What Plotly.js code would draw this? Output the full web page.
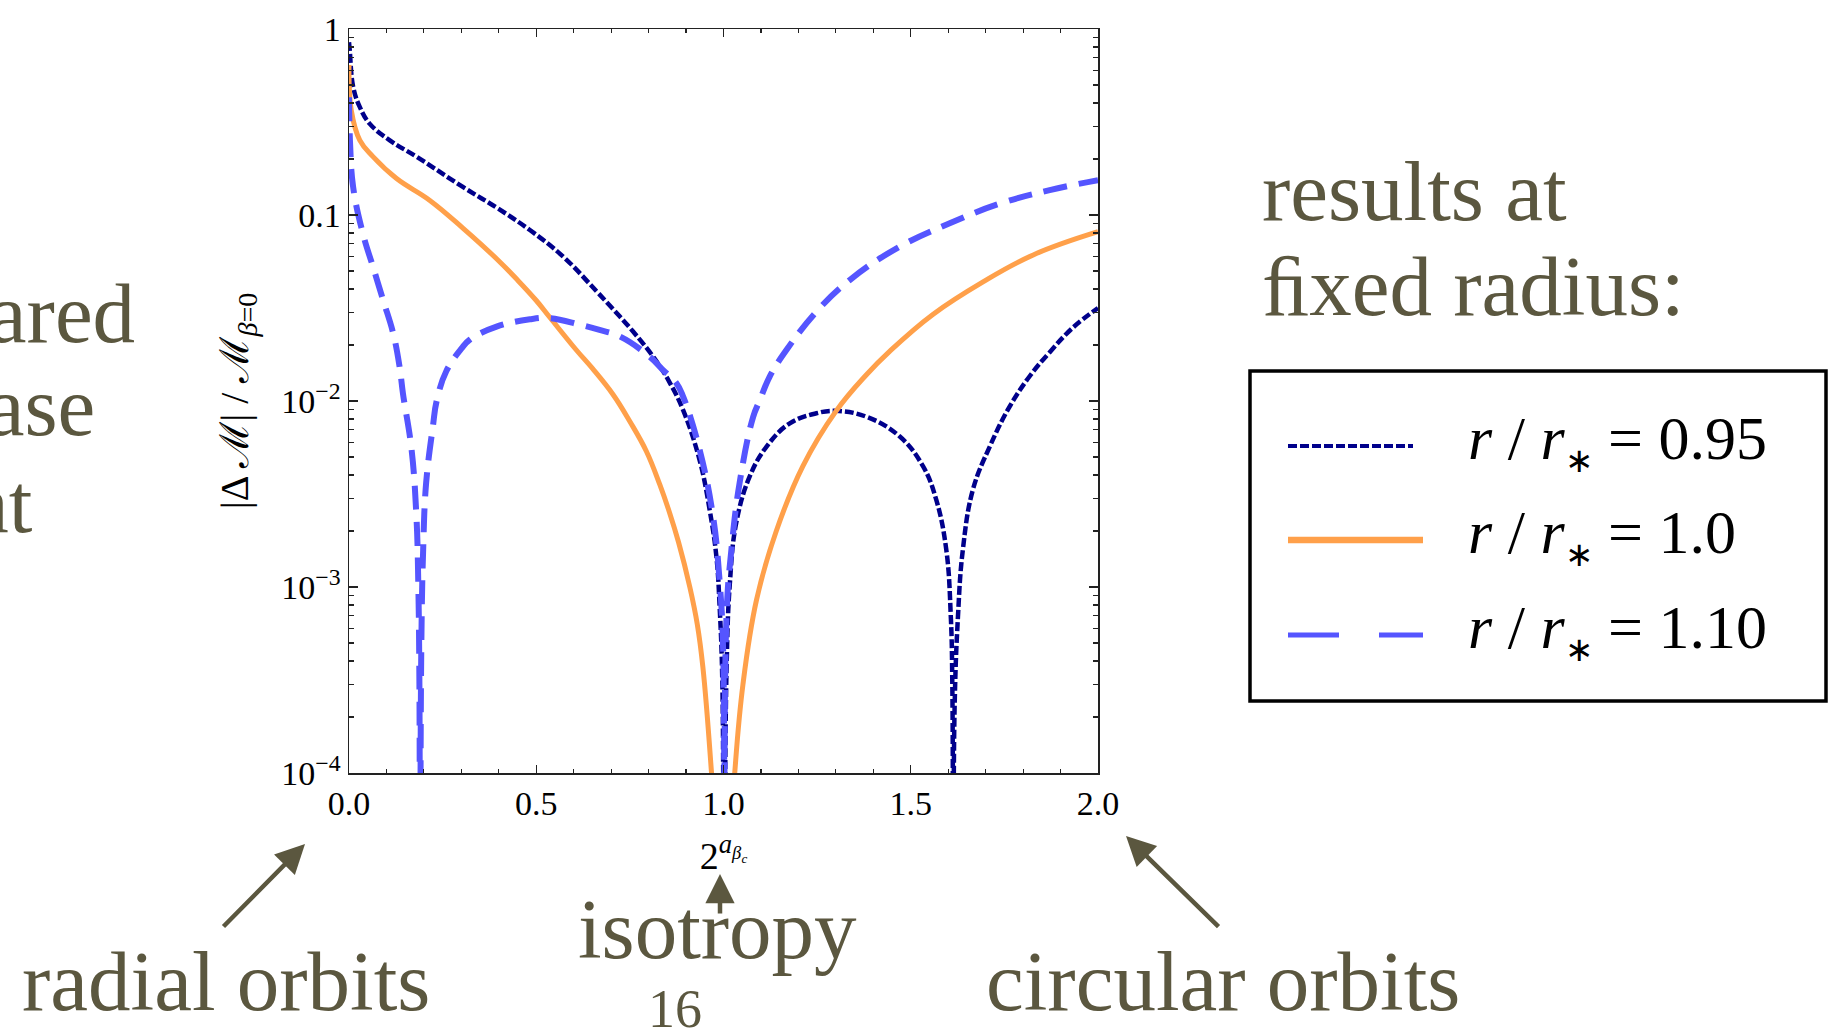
<!DOCTYPE html>
<html>
<head>
<meta charset="utf-8">
<script src="https://cdn.plot.ly/plotly-3.0.1.min.js"></script>
<style>
  html, body { margin: 0; padding: 0; background: #ffffff; }
  #chart { width: 1831px; height: 1031px; }
</style>
</head>
<body>
<div id="chart"></div>
<script>
// ---------------- data ----------------
// r / r* = 0.95  (navy, dotted)
const x095 = [0, 0.002, 0.011, 0.029, 0.055, 0.109, 0.18, 0.304, 0.394, 0.483, 0.572, 0.661, 0.70, 0.758, 0.815,
  0.856, 0.892, 0.936, 0.963, 0.981, 0.99, 0.997, 1.001, 1.008, 1.017, 1.034, 1.07, 1.115, 1.177, 1.248, 1.30,
  1.381, 1.47, 1.533, 1.568, 1.595, 1.607, 1.611, 1.6135, 1.617, 1.626, 1.639, 1.666, 1.711, 1.764, 1.82, 1.87,
  1.933, 2.0];
const y095 = [0.85, 0.77, 0.49, 0.38, 0.31, 0.252, 0.206, 0.1415, 0.1096, 0.083, 0.0597, 0.0389, 0.0320, 0.0237, 0.0170,
  0.0126, 0.00895, 0.00483, 0.0026, 0.00146, 0.00076, 0.0003, 0.00001, 0.00035, 0.00105, 0.00221, 0.00393, 0.00569, 0.00759, 0.00859, 0.00885,
  0.00824, 0.00646, 0.00445, 0.00295, 0.00158, 0.00069, 0.0003, 0.00001, 0.00022, 0.00069, 0.00158, 0.00334, 0.00569, 0.00933, 0.0138, 0.0182,
  0.0248, 0.0316];

// r / r* = 1.0  (orange, solid)
const x100 = [0, 0.006, 0.029, 0.064, 0.127, 0.215, 0.304, 0.394, 0.45, 0.50, 0.536, 0.607, 0.65, 0.705, 0.75,
  0.794, 0.83, 0.856, 0.88, 0.91, 0.93, 0.945, 0.968, 1.0, 1.03, 1.052, 1.088, 1.141, 1.212, 1.30,
  1.381, 1.445, 1.559, 1.693, 1.827, 2.0];
const y100 = [0.64, 0.366, 0.252, 0.206, 0.157, 0.1202, 0.0851, 0.0582, 0.0447, 0.0347, 0.0282, 0.0188, 0.01496, 0.01084, 0.00776,
  0.00537, 0.00355, 0.00251, 0.00174, 0.001, 0.00063, 0.00037, 0.0001, 0.00001, 0.0001, 0.0003, 0.00085, 0.0020, 0.00447, 0.0088,
  0.0138, 0.0186, 0.0292, 0.0437, 0.0610, 0.0813];

// r / r* = 1.10  (blue, dashed)
const x110 = [0, 0.003, 0.011, 0.037, 0.064, 0.091, 0.118, 0.135, 0.144, 0.167, 0.18, 0.185, 0.188, 0.1895, 0.193,
  0.198, 0.206, 0.224, 0.234, 0.26, 0.30, 0.323, 0.394, 0.483, 0.536, 0.617, 0.669, 0.724, 0.803, 0.838, 0.874,
  0.892, 0.936, 0.972, 0.99, 0.999, 1.002, 1.008, 1.021, 1.043, 1.079, 1.097, 1.123, 1.168, 1.248, 1.337, 1.47,
  1.604, 1.737, 1.871, 2.0];
const y110 = [0.43, 0.24, 0.1415, 0.0796, 0.0527, 0.0349, 0.0231, 0.0153, 0.011, 0.0055, 0.0024, 0.00105, 0.0003, 0.00001, 0.00046,
  0.00158, 0.00363, 0.0073, 0.0100, 0.0145, 0.0191, 0.0214, 0.0251, 0.0275, 0.0279, 0.0257, 0.0241, 0.0222, 0.0173, 0.0147, 0.0125,
  0.0106, 0.0055, 0.0024, 0.00105, 0.00046, 0.00001, 0.0007, 0.00158, 0.00363, 0.0082, 0.0101, 0.0135, 0.0188, 0.0302, 0.0447, 0.0675,
  0.0902, 0.115, 0.136, 0.154];

const starSub = '<sub><span style="font-size:34px">∗</span></sub>';
const seriesNames = [
  '<i>r</i> / <i>r</i>' + starSub + ' = 0.95',
  '<i>r</i> / <i>r</i>' + starSub + ' = 1.0',
  '<i>r</i> / <i>r</i>' + starSub + ' = 1.10'
];
const seriesColors = ['#00008b', '#ffa04a', '#5555ff'];

// axis ticks
const xTickVals = [0, 0.5, 1.0, 1.5, 2.0];
const xTickText = ['0.0', '0.5', '1.0', '1.5', '2.0'];
const xMinorVals = [0.1, 0.2, 0.3, 0.4, 0.6, 0.7, 0.8, 0.9, 1.1, 1.2, 1.3, 1.4, 1.6, 1.7, 1.8, 1.9];
const yTickVals = [1e-4, 1e-3, 1e-2, 0.1, 1];
const yTickText = ['10<sup>−4</sup>', '10<sup>−3</sup>', '10<sup>−2</sup>', '0.1', '1'];
const yMinorVals = [];
[1e-4, 1e-3, 1e-2, 0.1].forEach(function (d) {
  [2, 3, 4, 5, 6, 7, 8, 9].forEach(function (m) { yMinorVals.push(+(d * m).toPrecision(3)); });
});

// slide text
const sideTextRight = ['results at', 'ﬁxed radius:'];
const sideTextLeft = ['compared', 'case', 'at'];
const bottomLabels = ['radial orbits', 'isotropy', 'circular orbits'];
const pageNumber = '16';

// ---------------- layout helpers (pixel -> paper) ----------------
const W = 1831, H = 1031;
const PL = 349, PR = 1098, PT = 29, PB = 773;
function px(xp) { return (xp - PL) / (PR - PL); }
function py(yp) { return (PB - yp) / (PB - PT); }

const OLIVE = '#5b573f';
const SERIF = 'Liberation Serif, Times New Roman, serif';
const BIG = 85;

function olive(text, xp, baseline, anchor, size) {
  size = size || BIG;
  return {
    text: text, xref: 'paper', yref: 'paper',
    x: px(xp), y: py(baseline - 0.34 * size),
    xanchor: anchor, yanchor: 'middle', showarrow: false,
    font: { family: SERIF, size: size, color: OLIVE }
  };
}
function arrow(hx, hy, tx, ty) {
  return {
    text: '', xref: 'paper', yref: 'paper', x: px(hx), y: py(hy),
    ax: tx - hx, ay: ty - hy, showarrow: true,
    arrowhead: 2, arrowsize: 1.3, arrowwidth: 4.5, arrowcolor: OLIVE
  };
}

// legend (drawn as a framed key to the right of the plot)
const LEG = { left: 1250, right: 1826, top: 371, bottom: 701, lineX0: 1288, textX: 1466, rows: [446, 540, 635], size: 62 };
const legendSampleEnds = [1413, 1423, 1423];
const legendSampleStyles = [
  { width: 4, dash: '9px,3px' },
  { width: 6.5, dash: 'solid' },
  { width: 5, dash: '51px,40px' }
];

const shapes = [
  { type: 'rect', xref: 'paper', yref: 'paper', x0: px(LEG.left), x1: px(LEG.right), y0: py(LEG.top), y1: py(LEG.bottom),
    line: { color: '#000', width: 3.5 }, fillcolor: 'rgba(0,0,0,0)' }
];
const legendTexts = [];
for (let i = 0; i < 3; i++) {
  shapes.push({
    type: 'line', xref: 'paper', yref: 'paper',
    x0: px(LEG.lineX0), x1: px(legendSampleEnds[i]), y0: py(LEG.rows[i]), y1: py(LEG.rows[i]),
    line: { color: seriesColors[i], width: legendSampleStyles[i].width, dash: legendSampleStyles[i].dash }
  });
  legendTexts.push({
    text: seriesNames[i], xref: 'paper', yref: 'paper',
    x: px(LEG.textX), y: py(LEG.rows[i] + 12 - 0.891 * LEG.size - 1),
    xanchor: 'left', yanchor: 'top', showarrow: false,
    font: { family: SERIF, size: LEG.size, color: '#000' }
  });
}

const annotations = [
  olive(sideTextRight[0], 1260, 220, 'left'),
  olive(sideTextRight[1], 1260, 315, 'left'),
  olive(sideTextLeft[0], 137, 342, 'right'),
  olive(sideTextLeft[1], 97, 435, 'right'),
  olive(sideTextLeft[2], 35, 532, 'right'),
  olive(bottomLabels[0], 20, 1010, 'left'),
  olive(bottomLabels[1], 576, 958, 'left'),
  olive(bottomLabels[2], 984, 1010, 'left'),
  olive(pageNumber, 675, 1027, 'center', 54),
  arrow(305, 844, 222, 928),
  arrow(720, 874, 720, 915),
  arrow(1126, 836, 1220, 928)
].concat(legendTexts);

const traces = [
  { x: x095, y: y095, name: seriesNames[0], type: 'scatter', mode: 'lines',
    line: { color: seriesColors[0], width: 4.5, dash: '9px,3px', shape: 'spline', smoothing: 1.15 } },
  { x: x100, y: y100, name: seriesNames[1], type: 'scatter', mode: 'lines',
    line: { color: seriesColors[1], width: 5, shape: 'spline', smoothing: 1.15 } },
  { x: x110, y: y110, name: seriesNames[2], type: 'scatter', mode: 'lines',
    line: { color: seriesColors[2], width: 6, dash: '24px,12px', shape: 'spline', smoothing: 1.15 } }
];

const axisCommon = {
  ticks: 'inside', mirror: 'ticks', showline: true, linecolor: '#222', linewidth: 1.5,
  tickcolor: '#222', tickwidth: 1.3, showgrid: false, zeroline: false,
  tickfont: { family: SERIF, size: 34, color: '#000' }
};

const layout = {
  width: W, height: H,
  margin: { l: PL, r: W - PR, t: PT, b: H - PB, pad: 0 },
  paper_bgcolor: '#ffffff', plot_bgcolor: '#ffffff',
  showlegend: false,
  xaxis: Object.assign({}, axisCommon, {
    range: [0, 2], tickmode: 'array', tickvals: xTickVals, ticktext: xTickText, ticklen: 8,
    ticklabelstandoff: 0,
    minor: { tickmode: 'array', tickvals: xMinorVals, ticklen: 4, ticks: 'inside', tickcolor: '#222', tickwidth: 1.1 },
    title: { text: '2<sup><i>a</i><sub><i>β</i><sub><i>c</i></sub></sub></sup>', standoff: 21,
      font: { family: SERIF, size: 38, color: '#000' } }
  }),
  yaxis: Object.assign({}, axisCommon, {
    type: 'log', range: [-4, 0], tickmode: 'array', tickvals: yTickVals, ticktext: yTickText, ticklen: 9,
    ticklabelstandoff: 0,
    minor: { tickmode: 'array', tickvals: yMinorVals, ticklen: 5, ticks: 'inside', tickcolor: '#222', tickwidth: 1.1 },
    title: { text: '|Δ ℳ| / ℳ<sub><i>β</i>=0</sub>', standoff: 20,
      font: { family: SERIF, size: 40, color: '#000' } }
  }),
  shapes: shapes,
  annotations: annotations
};

Plotly.newPlot('chart', traces, layout, { staticPlot: true, displayModeBar: false });
</script>
</body>
</html>
